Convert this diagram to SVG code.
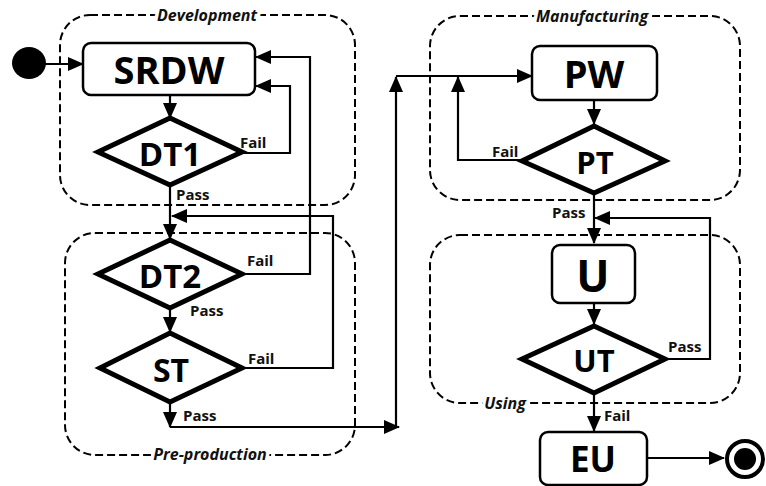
<svg xmlns="http://www.w3.org/2000/svg" width="766" height="486" viewBox="0 0 766 486">
<style>
.cont{fill:none;stroke:#000;stroke-width:2;stroke-dasharray:8,4}
.clabel{font-family:"Open Sans","DejaVu Sans",sans-serif;font-weight:bold;font-style:italic;font-size:16px;fill:#111;text-anchor:middle;stroke:#fff;stroke-width:7;paint-order:stroke}
.box{fill:#fff;stroke:#000;stroke-width:2.5}
.dia{fill:#fff;stroke:#000;stroke-width:5;stroke-linejoin:miter}
.nt{font-family:"Open Sans","DejaVu Sans",sans-serif;font-weight:bold;fill:#000;text-anchor:middle;dominant-baseline:central}
.el{font-family:"Open Sans","DejaVu Sans",sans-serif;font-weight:bold;font-size:15px;fill:#111}
.c{fill:none;stroke:#000;stroke-width:2.2}
</style>
<defs>
<marker id="ah" markerUnits="userSpaceOnUse" markerWidth="16" markerHeight="14" refX="15" refY="7" orient="auto">
<path d="M0,0 L16,7 L0,14 Z" fill="#000"/>
</marker>
</defs>
<g id="containers">
<rect class="cont" x="60" y="15" width="295" height="190" rx="30"/>
<rect class="cont" x="65" y="233" width="290" height="222" rx="30"/>
<rect class="cont" x="430" y="16" width="310" height="184" rx="30"/>
<rect class="cont" x="430" y="235" width="310" height="168" rx="30"/>
<text class="clabel" x="207" y="21">Development</text>
<text class="clabel" x="210" y="460">Pre-production</text>
<text class="clabel" x="592" y="22">Manufacturing</text>
<text class="clabel" x="505" y="409">Using</text>
</g>
<g id="connectors">
<path class="c" d="M45,64 H83" marker-end="url(#ah)"/>
<path class="c" d="M170,95 V118" marker-end="url(#ah)"/>
<path class="c" d="M242,153 H290 V86 H256" marker-end="url(#ah)"/>
<path class="c" d="M242,274 H310 V57 H256" marker-end="url(#ah)"/>
<path class="c" d="M170,185 V239" marker-end="url(#ah)"/>
<path class="c" d="M242,368 H333 V216 H172" marker-end="url(#ah)"/>
<path class="c" d="M170,308 V332" marker-end="url(#ah)"/>
<path class="c" d="M170,402 V427" marker-end="url(#ah)"/>
<path class="c" d="M170,427 H399" marker-end="url(#ah)"/>
<path class="c" d="M396,428 V77" marker-end="url(#ah)"/>
<path class="c" d="M396,76 H532" marker-end="url(#ah)"/>
<path class="c" d="M594,100 V124" marker-end="url(#ah)"/>
<path class="c" d="M522,160 H458 V77" marker-end="url(#ah)"/>
<path class="c" d="M594,193 V243" marker-end="url(#ah)"/>
<path class="c" d="M665,359 H710 V218 H595" marker-end="url(#ah)"/>
<path class="c" d="M594,303 V324" marker-end="url(#ah)"/>
<path class="c" d="M594,393 V431" marker-end="url(#ah)"/>
<path class="c" d="M647,458 H724" marker-end="url(#ah)"/>
<text class="el" x="240" y="148">Fail</text>
<text class="el" x="176" y="200">Pass</text>
<text class="el" x="247" y="266">Fail</text>
<text class="el" x="190" y="316">Pass</text>
<text class="el" x="248" y="364">Fail</text>
<text class="el" x="183" y="421">Pass</text>
<text class="el" x="492" y="157">Fail</text>
<text class="el" x="552" y="218">Pass</text>
<text class="el" x="668" y="352">Pass</text>
<text class="el" x="604" y="421">Fail</text>
</g>
<g id="start"><ellipse cx="29" cy="63" rx="17" ry="16" fill="#000"/></g>
<g id="SRDW"><rect class="box" x="83" y="43" width="172" height="52" rx="8"/><text class="nt" x="169" y="69" font-size="38">SRDW</text></g>
<g id="DT1"><path class="dia" d="M170,118 L242,152 L170,185 L98,152 Z"/><text class="nt" x="170" y="153" font-size="33">DT1</text></g>
<g id="DT2"><path class="dia" d="M170,240 L242,274 L170,308 L98,274 Z"/><text class="nt" x="170" y="275" font-size="33">DT2</text></g>
<g id="ST"><path class="dia" d="M170,333 L242,368 L170,402 L100,368 Z"/><text class="nt" x="171" y="369" font-size="32">ST</text></g>
<g id="PW"><rect class="box" x="532" y="46" width="125" height="54" rx="8"/><text class="nt" x="594" y="73" font-size="38">PW</text></g>
<g id="PT"><path class="dia" d="M594,126 L665,161 L594,193 L522,161 Z"/><text class="nt" x="595" y="162" font-size="31">PT</text></g>
<g id="U"><rect class="box" x="552" y="245" width="83" height="58" rx="8"/><text class="nt" x="593" y="275" font-size="44">U</text></g>
<g id="UT"><path class="dia" d="M594,326 L665,359 L594,393 L522,359 Z"/><text class="nt" x="594" y="360" font-size="31">UT</text></g>
<g id="EU"><rect class="box" x="540" y="432" width="107" height="53" rx="8"/><text class="nt" x="593" y="458" font-size="35">EU</text></g>
<g id="end"><circle cx="745" cy="459" r="18" fill="#fff" stroke="#000" stroke-width="4"/><circle cx="745" cy="459" r="11" fill="#000"/></g>
</svg>
